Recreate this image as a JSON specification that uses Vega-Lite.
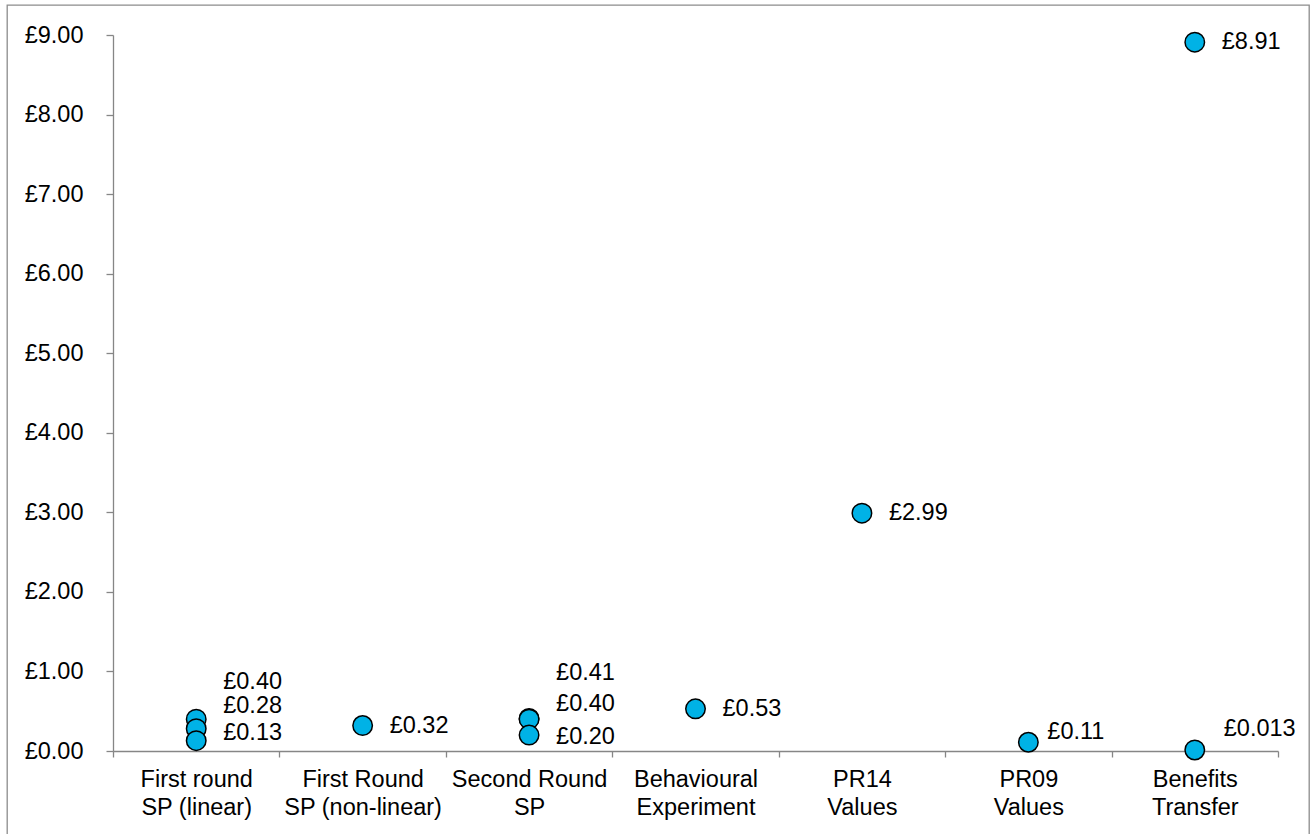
{
  "$schema": "https://vega.github.io/schema/vega-lite/v6.json",
  "width": 1302,
  "height": 832,
  "autosize": "none",
  "padding": {"left": 7, "top": 5, "right": 3, "bottom": 0},
  "background": "white",
  "config": {
    "font": "Liberation Sans",
    "view": {"stroke": "#8c8c8c", "strokeWidth": 1.3},
    "axis": {
      "domainColor": "#868686",
      "domainWidth": 1.3,
      "tickColor": "#868686",
      "tickWidth": 1.3,
      "labelColor": "#000000",
      "labelFont": "Liberation Sans",
      "labelFontSize": 23.5,
      "grid": false,
      "title": null
    }
  },
  "data": {
    "values": [
      {"category": "First round\nSP (linear)", "value": 0.40, "label": "£0.40"},
      {"category": "First round\nSP (linear)", "value": 0.28, "label": "£0.28"},
      {"category": "First round\nSP (linear)", "value": 0.13, "label": "£0.13"},
      {"category": "First Round\nSP (non-linear)", "value": 0.32, "label": "£0.32"},
      {"category": "Second Round\nSP", "value": 0.41, "label": "£0.41"},
      {"category": "Second Round\nSP", "value": 0.40, "label": "£0.40"},
      {"category": "Second Round\nSP", "value": 0.20, "label": "£0.20"},
      {"category": "Behavioural\nExperiment", "value": 0.53, "label": "£0.53"},
      {"category": "PR14\nValues", "value": 2.99, "label": "£2.99"},
      {"category": "PR09\nValues", "value": 0.11, "label": "£0.11"},
      {"category": "Benefits\nTransfer", "value": 8.91, "label": "£8.91"},
      {"category": "Benefits\nTransfer", "value": 0.013, "label": "£0.013"}
    ]
  },
  "encoding": {
    "x": {
      "field": "category",
      "type": "nominal",
      "sort": null,
      "scale": {"type": "band", "range": [106, 1271], "paddingInner": 0, "paddingOuter": 0},
      "axis": {
        "orient": "bottom",
        "offset": -86,
        "tickBand": "extent",
        "tickSize": 6,
        "labelAngle": 0,
        "labelBaseline": "top",
        "labelPadding": 10,
        "labelLineHeight": 28,
        "labelLimit": 400,
        "labelOverlap": false,
        "labelExpr": "isValid(datum.value) ? split(datum.value, '\\n') : ''"
      }
    },
    "y": {
      "field": "value",
      "type": "quantitative",
      "scale": {"domain": [0, 9], "range": [746, 30], "nice": false, "zero": true},
      "axis": {
        "orient": "left",
        "offset": -106,
        "values": [0, 1, 2, 3, 4, 5, 6, 7, 8, 9],
        "tickSize": 7,
        "labelPadding": 23,
        "labelExpr": "'£' + format(datum.value, '.2f')"
      }
    }
  },
  "layer": [
    {
      "mark": {"type": "point", "shape": "circle", "filled": true, "size": 380, "fill": "#00B2E6", "stroke": "#000000", "strokeWidth": 1.5, "opacity": 1}
    },
    {
      "transform": [{"filter": {"field": "label", "oneOf": ["£0.32", "£0.53", "£2.99", "£8.91"]}}],
      "mark": {"type": "text", "align": "left", "baseline": "middle", "dx": 27, "dy": 0, "fontSize": 23.5, "color": "#000000"},
      "encoding": {"text": {"field": "label"}}
    },
    {
      "transform": [{"filter": {"field": "label", "equal": "£0.20"}}],
      "mark": {"type": "text", "align": "left", "baseline": "middle", "dx": 27, "dy": 2, "fontSize": 23.5, "color": "#000000"},
      "encoding": {"text": {"field": "label"}}
    },
    {
      "transform": [{"filter": {"field": "label", "equal": "£0.13"}}],
      "mark": {"type": "text", "align": "left", "baseline": "middle", "dx": 27, "dy": -8, "fontSize": 23.5, "color": "#000000"},
      "encoding": {"text": {"field": "label"}}
    },
    {
      "transform": [{"filter": {"field": "label", "equal": "£0.28"}}],
      "mark": {"type": "text", "align": "left", "baseline": "middle", "dx": 27, "dy": -23, "fontSize": 23.5, "color": "#000000"},
      "encoding": {"text": {"field": "label"}}
    },
    {
      "transform": [{"filter": {"and": [{"field": "label", "equal": "£0.40"}, {"field": "category", "equal": "First round\nSP (linear)"}]}}],
      "mark": {"type": "text", "align": "left", "baseline": "middle", "dx": 27, "dy": -37, "fontSize": 23.5, "color": "#000000"},
      "encoding": {"text": {"field": "label"}}
    },
    {
      "transform": [{"filter": {"field": "label", "equal": "£0.41"}}],
      "mark": {"type": "text", "align": "left", "baseline": "middle", "dx": 27, "dy": -45, "fontSize": 23.5, "color": "#000000"},
      "encoding": {"text": {"field": "label"}}
    },
    {
      "transform": [{"filter": {"and": [{"field": "label", "equal": "£0.40"}, {"field": "category", "equal": "Second Round\nSP"}]}}],
      "mark": {"type": "text", "align": "left", "baseline": "middle", "dx": 27, "dy": -15, "fontSize": 23.5, "color": "#000000"},
      "encoding": {"text": {"field": "label"}}
    },
    {
      "transform": [{"filter": {"field": "label", "equal": "£0.11"}}],
      "mark": {"type": "text", "align": "left", "baseline": "middle", "dx": 19, "dy": -10, "fontSize": 23.5, "color": "#000000"},
      "encoding": {"text": {"field": "label"}}
    },
    {
      "transform": [{"filter": {"field": "label", "equal": "£0.013"}}],
      "mark": {"type": "text", "align": "left", "baseline": "middle", "dx": 29, "dy": -21, "fontSize": 23.5, "color": "#000000"},
      "encoding": {"text": {"field": "label"}}
    }
  ]
}
